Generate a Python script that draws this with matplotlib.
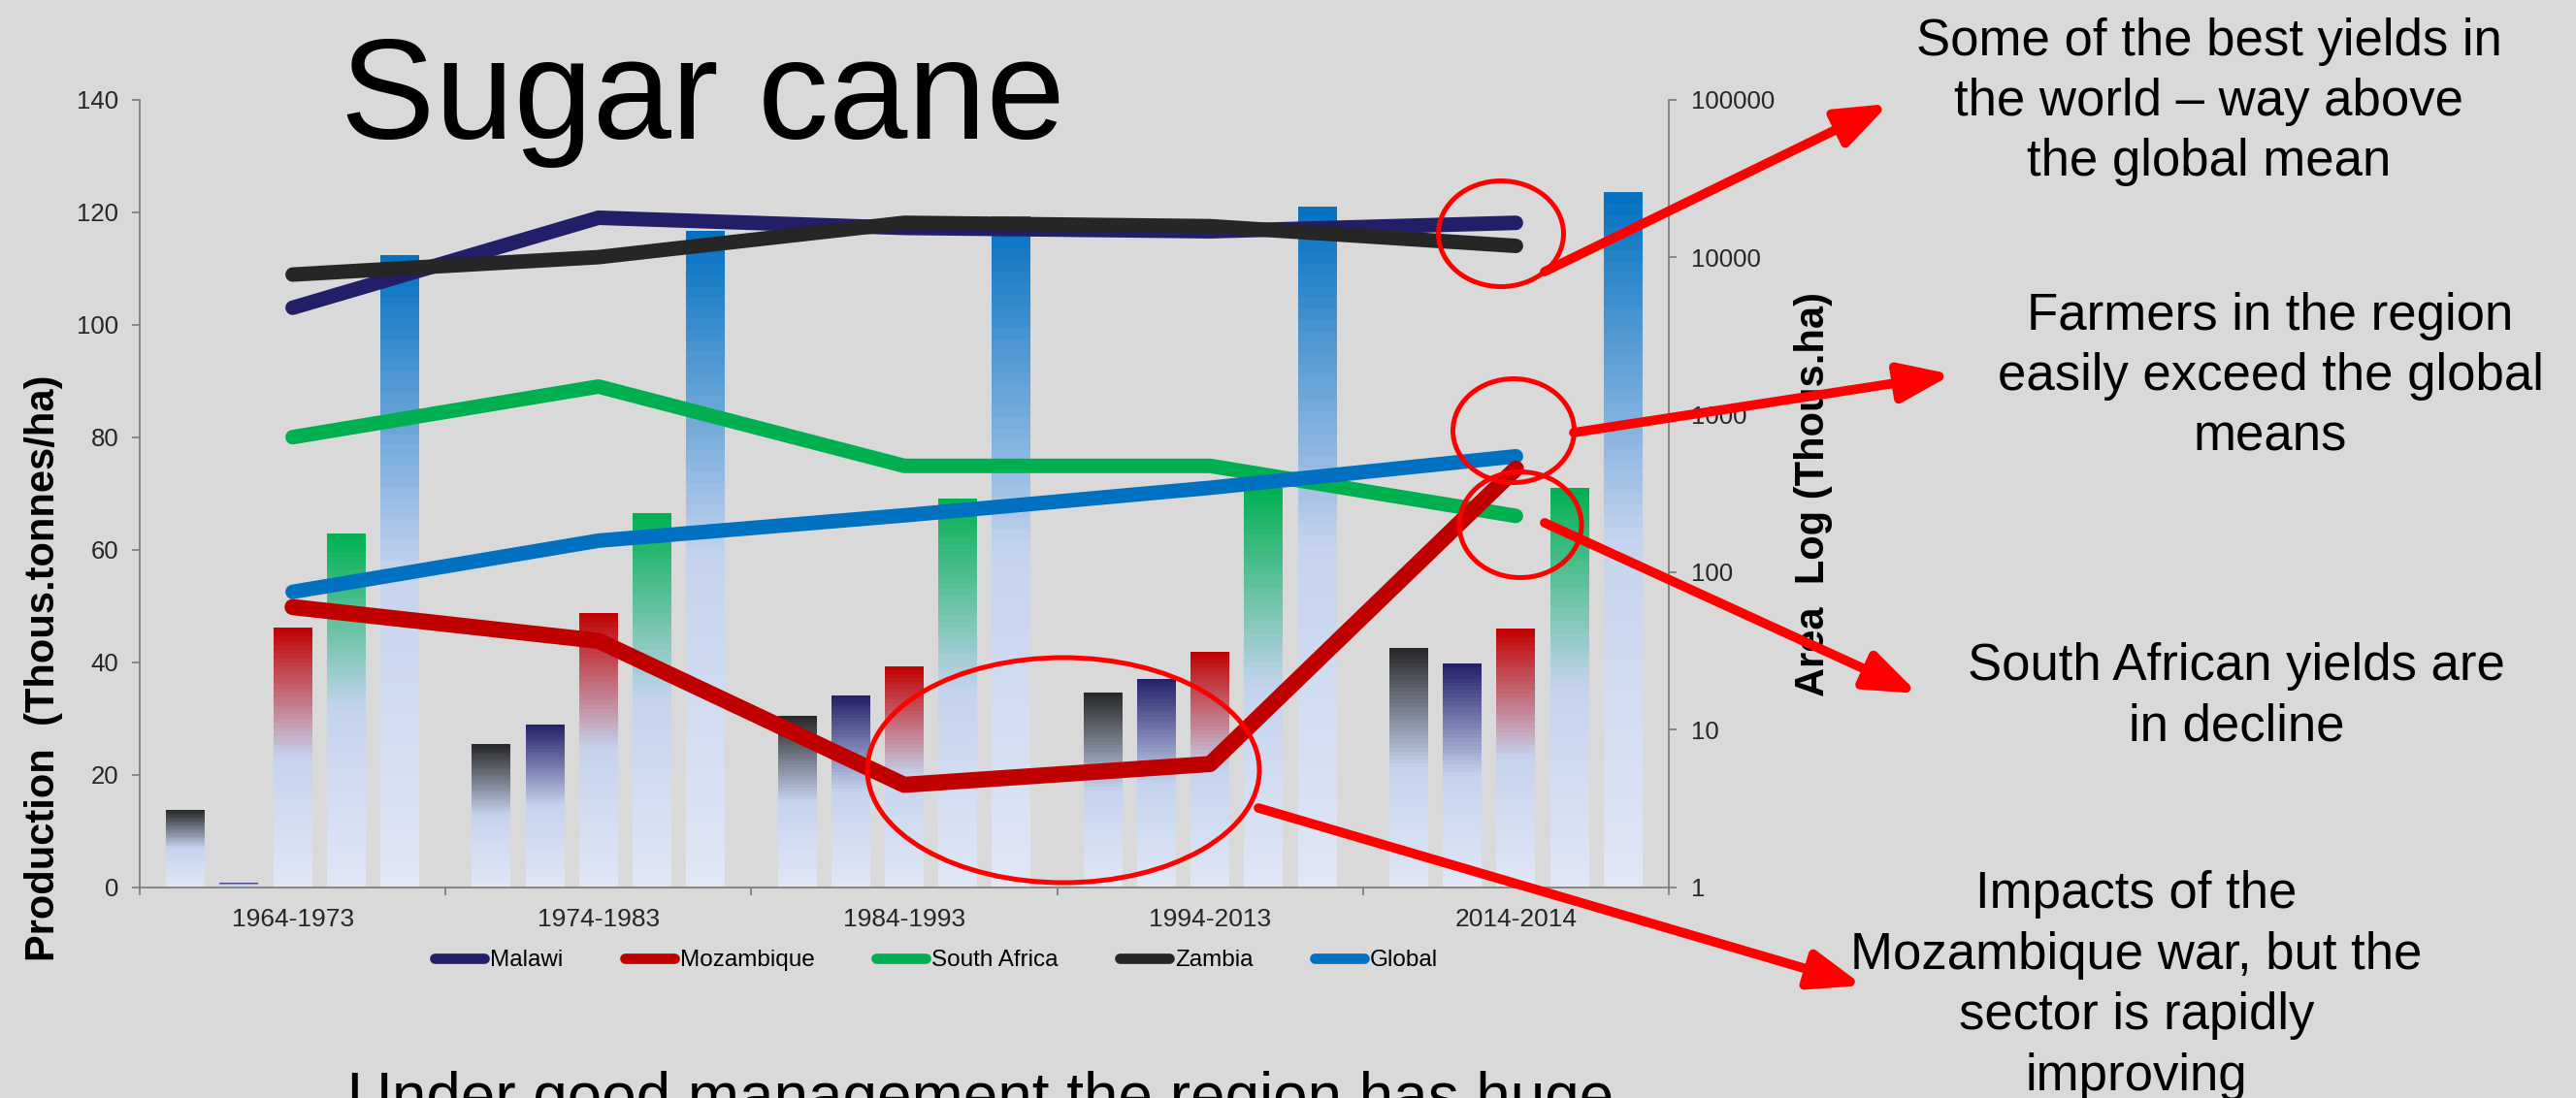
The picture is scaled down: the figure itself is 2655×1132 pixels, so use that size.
import matplotlib
matplotlib.use("Agg")
import matplotlib.pyplot as plt
import numpy as np
from matplotlib.patches import Ellipse, FancyArrowPatch
from matplotlib.colors import to_rgb

plt.rcParams["font.family"] = ["Liberation Sans", "DejaVu Sans"]

periods = ["1964-1973", "1974-1983", "1984-1993", "1994-2013", "2014-2014"]

# yield lines, left axis
yield_malawi = [103, 119, 117.2, 116.6, 118.1]
yield_mozambique = [49.8, 43.8, 18.2, 21.9, 74.4]
yield_south_africa = [80, 89, 74.9, 74.9, 66]
yield_zambia = [108.9, 112, 118.1, 117.5, 114]
yield_global = [52.5, 61.6, 66.1, 71, 76.6]

# harvested area bars, right log axis (thous. ha)
area_zambia = [3.1, 8.1, 12.2, 17.1, 33.2]
area_malawi = [1.07, 10.8, 16.5, 21.1, 26.2]
area_mozambique = [44.3, 55.3, 25.1, 31.4, 43.6]
area_south_africa = [175, 237, 294, 341, 343]
area_global = [10330, 14600, 18200, 20960, 25960]

c_malawi = "#221f68"
c_mozambique = "#c00000"
c_sa = "#00b050"
c_zambia = "#262626"
c_global = "#0070c0"
red = "#ff0000"
bg = "#d9d9d9"

W, H = 2655, 1132
fig = plt.figure(figsize=(W / 100, H / 100), dpi=100, facecolor=bg)


def px(x, y):
    return (x / W, 1 - y / H)


ax1 = fig.add_axes([144 / W, 1 - 914.7 / H, (1720 - 144) / W, (914.7 - 102.7) / H])
ax2 = ax1.twinx()
ax1.set_zorder(2)
ax2.set_zorder(1)
ax1.patch.set_visible(False)
ax2.patch.set_visible(False)

x = np.arange(len(periods))
bw = 0.127
mid = np.array(to_rgb("#c5d3ee"))
low = np.array(to_rgb("#e0e7f5"))


def grad(top, t):
    top = np.array(to_rgb(top))
    if t >= 0.5:
        return mid + (top - mid) * (t - 0.5) / 0.5
    return low + (mid - low) * t / 0.5


N = 60
bar_series = [(area_zambia, c_zambia, -0.35), (area_malawi, c_malawi, -0.175),
              (area_mozambique, c_mozambique, 0.0), (area_south_africa, c_sa, 0.175),
              (area_global, c_global, 0.35)]
for vals, col, off in bar_series:
    vals = np.array(vals, dtype=float)
    for k in range(N):
        b0 = vals ** (k / N)
        b1 = vals ** ((k + 1) / N)
        ax2.bar(x + off, b1 - b0, bottom=b0, width=bw, color=grad(col, (k + 0.5) / N),
                linewidth=0, antialiased=False)

ax2.set_yscale("log")
ax2.set_ylim(1, 100000)
ax2.set_yticks([1, 10, 100, 1000, 10000, 100000])
ax2.set_yticklabels(["1", "10", "100", "1000", "10000", "100000"])
ax2.yaxis.set_minor_locator(matplotlib.ticker.NullLocator())

lw = 10.8
ax1.plot(x, yield_malawi, color=c_malawi, lw=lw, solid_capstyle="round", label="Malawi")
ax1.plot(x, yield_south_africa, color=c_sa, lw=lw, solid_capstyle="round", label="South Africa")
ax1.plot(x, yield_zambia, color=c_zambia, lw=lw, solid_capstyle="round", label="Zambia")
ax1.plot(x, yield_global, color=c_global, lw=lw, solid_capstyle="round", label="Global")
ax1.plot(x, yield_mozambique, color=c_mozambique, lw=12, solid_capstyle="round", label="Mozambique")

ax1.set_xlim(-0.5, 4.5)
ax1.set_ylim(0, 140)
ax1.set_yticks(np.arange(0, 141, 20))
ax1.set_xticks(np.arange(-0.5, 5, 1))
ax1.set_xticklabels([])
ax1.set_xticks(x, minor=True)
ax1.set_xticklabels(periods, minor=True)

gray = "#868686"
for a in (ax1, ax2):
    for s in a.spines.values():
        s.set_visible(False)
ax1.spines["left"].set_visible(True)
ax1.spines["bottom"].set_visible(True)
ax2.spines["right"].set_visible(True)
for s in (ax1.spines["left"], ax1.spines["bottom"], ax2.spines["right"]):
    s.set_color(gray)
    s.set_linewidth(1.4)

ax1.tick_params(axis="y", length=5.5, width=1.4, color=gray, labelsize=18.5, pad=10, labelcolor="#262626")
ax1.tick_params(axis="x", which="major", length=5.5, width=1.4, color=gray)
ax1.tick_params(axis="x", which="minor", length=0, labelsize=19, pad=15, labelcolor="#262626")
ax2.tick_params(axis="y", length=5.5, width=1.4, color=gray, labelsize=18.5, pad=11, labelcolor="#262626")

handles, labels = ax1.get_legend_handles_labels()
order = ["Malawi", "Mozambique", "South Africa", "Zambia", "Global"]
hmap = dict(zip(labels, handles))
leg = fig.legend([hmap[o] for o in order], order, loc="center", bbox_to_anchor=px(965, 990),
                 ncol=5, frameon=False, fontsize=17.5, handlelength=2.1, handletextpad=0.25,
                 columnspacing=2.6)
for h in leg.get_lines():
    h.set_linewidth(7.7)

# axis titles
fig.text(*px(45, 689), "Production  (Thous.tonnes/ha)", rotation=90, ha="center", va="center",
         fontsize=30, fontweight="bold")
fig.text(*px(1869, 510), "Area  Log (Thous.ha)", rotation=90, ha="center", va="center",
         fontsize=30, fontweight="bold")

fig.text(*px(351, 143), "Sugar cane", fontsize=105, va="baseline", ha="left")
fig.text(*px(358, 1151), "Under good management the region has huge", fontsize=46,
         va="baseline", ha="left")

notes = [
    ((2277, 105), "Some of the best yields in\nthe world \u2013 way above\nthe global mean"),
    ((2340, 388), "Farmers in the region\neasily exceed the global\nmeans"),
    ((2305, 718), "South African yields are\nin decline"),
    ((2202, 1016), "Impacts of the\nMozambique war, but the\nsector is rapidly\nimproving"),
]
for (nx, ny), txt in notes:
    fig.text(*px(nx, ny), txt, fontsize=38, ha="center", va="center", multialignment="center",
             linespacing=1.32)

ellipses = [((1547, 241), 129, 109), ((1560, 444), 125, 107),
            ((1567, 541), 126, 109), ((1096, 794), 404, 232)]
for (ex, ey), ew, eh in ellipses:
    fig.add_artist(Ellipse(px(ex, ey), ew / W, eh / H, transform=fig.transFigure,
                           fill=False, ec=red, lw=3.6, zorder=10))

arrows = [((1592, 280), (1947, 107)), ((1622, 446), (2012, 386)),
          ((1592, 539), (1977, 715)), ((1297, 833), (1920, 1016))]
for a0, a1 in arrows:
    fig.add_artist(FancyArrowPatch(px(*a0), px(*a1), transform=fig.transFigure,
                                   arrowstyle="-|>,head_length=1.6,head_width=0.6",
                                   mutation_scale=20, lw=7, color=red, shrinkA=0, shrinkB=0,
                                   zorder=10))

fig.savefig("out.png", dpi=100, facecolor=bg)
